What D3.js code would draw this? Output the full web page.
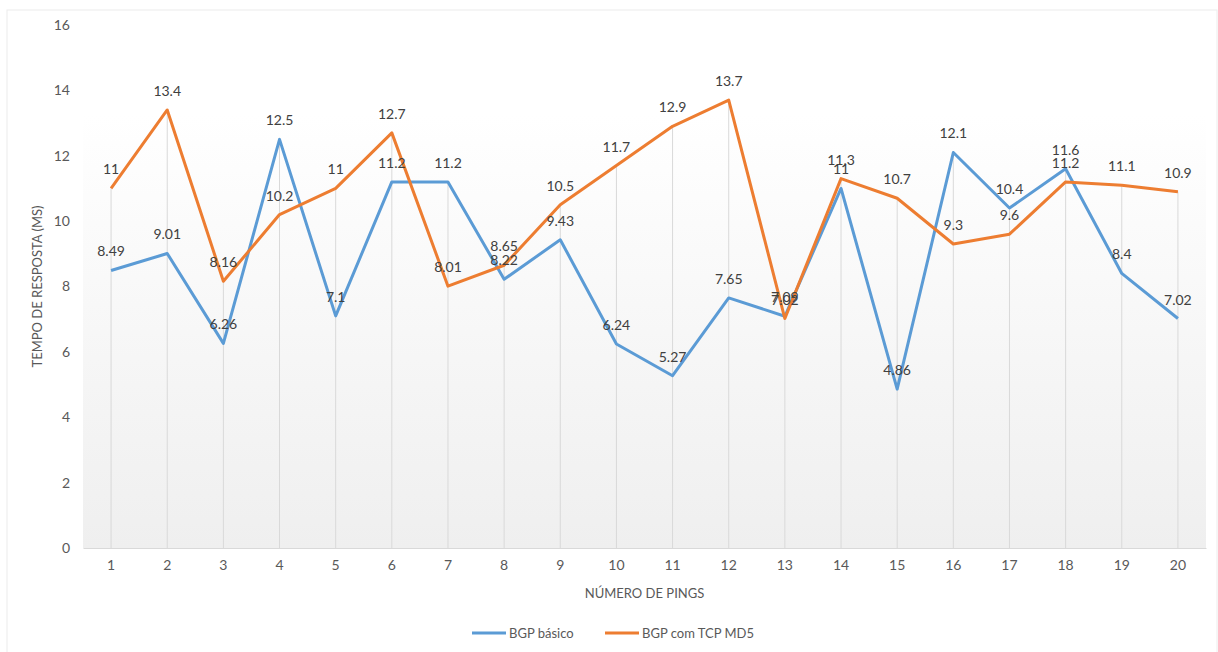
<!DOCTYPE html>
<html><head><meta charset="utf-8">
<script src="https://cdn.jsdelivr.net/npm/d3@7"></script>
<style>body{margin:0;background:#fff}text{font-family:Lato,"Open Sans",sans-serif}</style>
</head><body>
<svg id="c" width="1218" height="652"></svg>
<script>
const categories = ["1","2","3","4","5","6","7","8","9","10","11","12","13","14","15","16","17","18","19","20"];
const basico = [8.49,9.01,6.26,12.5,7.1,11.2,11.2,8.22,9.43,6.24,5.27,7.65,7.09,11,4.86,12.1,10.4,11.6,8.4,7.02];
const md5 = [11,13.4,8.16,10.2,11,12.7,8.01,8.65,10.5,11.7,12.9,13.7,7.02,11.3,10.7,9.3,9.6,11.2,11.1,10.9];
const yTicks = [0,2,4,6,8,10,12,14,16];
const seriesNames = ["BGP básico","BGP com TCP MD5"];
const colors = ["#5b9bd5","#ed7d31"];

const svg = d3.select("#c");
const pL=83, pR=1206, pT=25, pB=548;

svg.append("rect").attr("x",7).attr("y",10).attr("width",1210).attr("height",650)
  .attr("fill","#fff").attr("stroke","#ececec");

const defs = svg.append("defs");
const g = defs.append("linearGradient").attr("id","bg").attr("x1",0).attr("y1",0).attr("x2",0).attr("y2",1);
g.append("stop").attr("offset","0%").attr("stop-color","#ffffff");
g.append("stop").attr("offset","100%").attr("stop-color","#efefef");
svg.append("rect").attr("x",pL).attr("y",pT+90).attr("width",pR-pL).attr("height",pB-pT-90).attr("fill","url(#bg)");

const x = d3.scaleBand().domain(categories).range([pL,pR]).padding(0);
const cx = d => x(d)+x.bandwidth()/2;
const y = d3.scaleLinear().domain([0,16]).range([pB,pT]);

// drop lines
svg.append("g").selectAll("line").data(categories).join("line")
  .attr("x1",cx).attr("x2",cx)
  .attr("y1",(d,i)=>y(Math.max(basico[i],md5[i]))).attr("y2",pB)
  .attr("stroke","#d9d9d9").attr("stroke-width",1);

// axes
const yAxis = svg.append("g").attr("transform",`translate(${pL},0)`)
  .call(d3.axisLeft(y).tickValues(yTicks).tickSize(0).tickPadding(13));
yAxis.select(".domain").remove();
yAxis.selectAll("text").attr("font-size",14).attr("fill","#595959");

const xAxis = svg.append("g").attr("transform",`translate(0,${pB})`)
  .call(d3.axisBottom(x).tickSize(0).tickPadding(12));
xAxis.select(".domain").attr("stroke","#d9d9d9");
xAxis.selectAll("text").attr("font-size",14).attr("fill","#595959");

// lines
const series = [basico, md5];
const line = d3.line().x((d,i)=>cx(categories[i])).y(d=>y(d));
series.forEach((s,k)=>{
  svg.append("path").datum(s).attr("d",line).attr("fill","none")
    .attr("stroke",colors[k]).attr("stroke-width",3).attr("stroke-linejoin","round");
});
series.forEach((s,k)=>{
  svg.append("g").selectAll("text").data(s).join("text")
    .attr("x",(d,i)=>cx(categories[i])).attr("y",d=>y(d)-14)
    .attr("text-anchor","middle").attr("font-size",14).attr("fill","#404040")
    .text(d=>d);
});

// titles
svg.append("text").attr("x",(pL+pR)/2).attr("y",598).attr("text-anchor","middle")
  .attr("font-size",13).attr("fill","#595959").text("NÚMERO DE PINGS");
svg.append("text").attr("transform",`translate(42,${(pT+pB)/2}) rotate(-90)`)
  .attr("text-anchor","middle").attr("font-size",13).attr("fill","#595959").text("TEMPO DE RESPOSTA (MS)");

// legend
const leg = [472,605];
leg.forEach((lx,k)=>{
  svg.append("line").attr("x1",lx).attr("x2",lx+34).attr("y1",633).attr("y2",633)
    .attr("stroke",colors[k]).attr("stroke-width",3);
  svg.append("text").attr("x",lx+37).attr("y",638).attr("font-size",13).attr("fill","#595959").text(seriesNames[k]);
});
</script>
</body></html>
